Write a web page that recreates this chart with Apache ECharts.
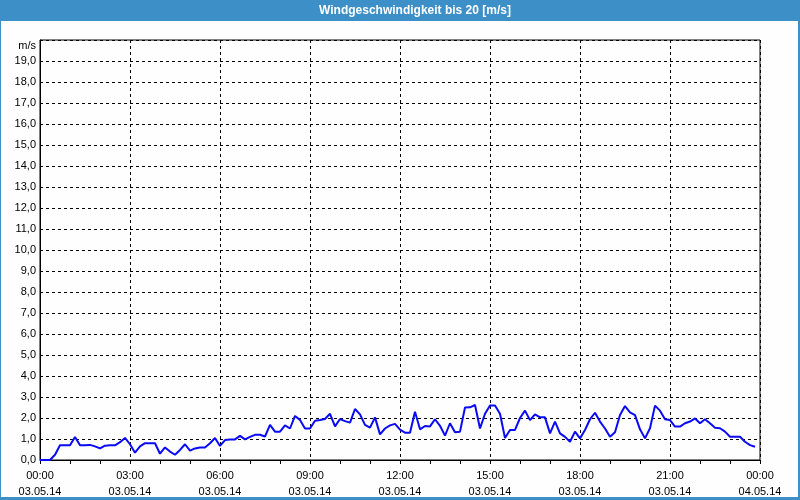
<!DOCTYPE html>
<html>
<head>
<meta charset="utf-8">
<script src="https://cdn.jsdelivr.net/npm/echarts@6/dist/echarts.min.js"></script>
<style>html,body{margin:0;padding:0;background:#fdfefd;}#c{width:800px;height:500px;}</style>
</head>
<body>
<div id="c"></div>
<script>
// 10-minute samples from 03.05.14 00:00 to 23:50 (m/s)
var windSpeed = [
  0, 0, 0, 0.25, 0.7, 0.7, 0.7, 1.1, 0.7, 0.7, 0.72, 0.65, 0.55, 0.68, 0.7, 0.7, 0.85, 1.05, 0.75,
  0.35, 0.65, 0.8, 0.8, 0.8, 0.3, 0.6, 0.4, 0.25, 0.48, 0.75, 0.45, 0.55, 0.6, 0.6, 0.8, 1.05, 0.67,
  0.95, 0.98, 0.98, 1.15, 0.98, 1.1, 1.2, 1.2, 1.12, 1.67, 1.35, 1.35, 1.65, 1.5, 2.1, 1.9, 1.5, 1.5,
  1.87, 1.9, 1.95, 2.2, 1.6, 1.95, 1.85, 1.78, 2.43, 2.17, 1.67, 1.54, 2.03, 1.22, 1.5, 1.65, 1.72, 1.45,
  1.3, 1.3, 2.3, 1.46, 1.62, 1.6, 1.94, 1.63, 1.16, 1.75, 1.32, 1.35, 2.5, 2.51, 2.62, 1.5, 2.2, 2.6,
  2.6, 2.2, 1.05, 1.43, 1.43, 2.0, 2.35, 1.9, 2.17, 2.03, 2.03, 1.27, 1.83, 1.27, 1.1, 0.87, 1.35, 1.03, 1.43, 1.94, 2.25,
  1.83, 1.5, 1.11, 1.32, 2.14, 2.57, 2.27, 2.14, 1.46, 1.03, 1.51, 2.59, 2.35, 1.94, 1.9, 1.59, 1.59, 1.75, 1.83, 1.98, 1.75, 1.94, 1.75, 1.54, 1.51, 1.35, 1.11, 1.11, 1.11, 0.87, 0.71, 0.63
];
var stepMinutes = 10;
var timeLabels = ['00:00', '03:00', '06:00', '09:00', '12:00', '15:00', '18:00', '21:00', '00:00'];
var dateLabels = ['03.05.14', '03.05.14', '03.05.14', '03.05.14', '03.05.14', '03.05.14', '03.05.14', '03.05.14', '04.05.14'];
var titleText = 'Windgeschwindigkeit bis 20 [m/s]';
var unitText = 'm/s';

var seriesData = windSpeed.map(function (v, i) { return [i * stepMinutes, v]; });

var FONT = 'Liberation Sans';
var chart = echarts.init(document.getElementById('c'), null, {renderer: 'canvas'});
chart.setOption({
  animation: false,
  backgroundColor: '#fdfefd',
  grid: {left: 40, right: 40, top: 40, bottom: 40, show: true, borderColor: '#000', borderWidth: 1, backgroundColor: 'transparent'},
  xAxis: {
    type: 'value', min: 0, max: 1440, interval: 180,
    axisLine: {show: true, lineStyle: {color: '#000', width: 1}},
    axisTick: {show: true, length: 4, lineStyle: {color: '#000'}},
    minorTick: {show: true, splitNumber: 3, length: 4, lineStyle: {color: '#000'}},
    splitLine: {show: true, lineStyle: {color: '#000', type: [3, 3], width: 1}},
    axisLabel: {
      color: '#000', fontFamily: FONT, fontSize: 11, lineHeight: 16, margin: 8,
      formatter: function (v) { var i = Math.round(v / 180); return timeLabels[i] + '\n' + dateLabels[i]; }
    }
  },
  yAxis: {
    type: 'value', min: 0, max: 20, interval: 1,
    axisLine: {show: true, lineStyle: {color: '#000', width: 1}},
    axisTick: {show: false},
    splitLine: {show: true, lineStyle: {color: '#000', type: [3, 3], width: 1}},
    axisLabel: {
      color: '#000', fontFamily: FONT, fontSize: 11, margin: 4,
      formatter: function (v) { return v >= 20 ? '' : v.toFixed(1).replace('.', ','); }
    }
  },
  series: [{
    type: 'line', data: seriesData, showSymbol: false, symbol: 'none',
    lineStyle: {color: '#0a0af5', width: 2}, z: 5
  }],
  graphic: [
    {type: 'rect', shape: {x: 0, y: 0, width: 800, height: 21}, style: {fill: '#3c8fc7'}, z: 10},
    {type: 'text', x: 415, y: 11, style: {text: titleText, fill: '#fff', font: 'bold 12px "' + FONT + '"', textAlign: 'center', textVerticalAlign: 'middle'}, z: 11},
    {type: 'rect', shape: {x: 0, y: 21, width: 1, height: 479}, style: {fill: '#3c8fc7'}, z: 10},
    {type: 'rect', shape: {x: 798, y: 21, width: 2, height: 479}, style: {fill: '#3c8fc7'}, z: 10},
    {type: 'rect', shape: {x: 0, y: 497, width: 800, height: 3}, style: {fill: '#3c8fc7'}, z: 10},
    {type: 'text', x: 36, y: 46, style: {text: unitText, fill: '#000', font: '11px "' + FONT + '"', textAlign: 'right', textVerticalAlign: 'middle'}, z: 11}
  ]
});
</script>
</body>
</html>
